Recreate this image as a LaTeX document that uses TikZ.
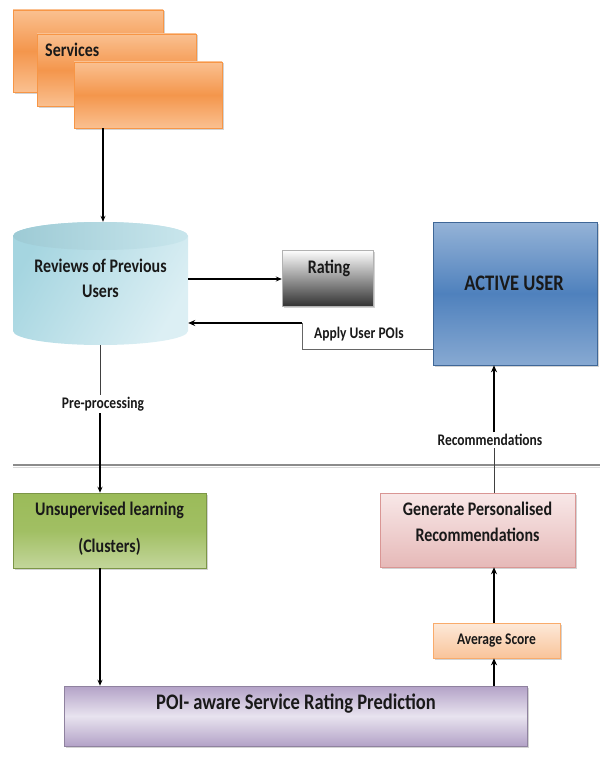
\documentclass[tikz,border=0pt]{standalone}
\usepackage{fontspec}
\setmainfont{Carlito}
\usetikzlibrary{arrows.meta,shadows}
\definecolor{orgB}{HTML}{F79646}
\definecolor{orgL}{HTML}{FAC090}
\definecolor{orgM}{HTML}{F4964C}
\definecolor{cylA}{HTML}{A5D5E0}
\definecolor{cylB}{HTML}{DCEFF4}
\definecolor{blueM}{HTML}{4F81BD}
\definecolor{blueL}{HTML}{95B3D7}
\definecolor{grnM}{HTML}{9BBB59}
\definecolor{grnL}{HTML}{C3D69B}
\definecolor{pnkM}{HTML}{E6B9B8}
\definecolor{pnkL}{HTML}{F8E8E8}
\definecolor{pnkB}{HTML}{D99694}
\definecolor{purM}{HTML}{B3A2C7}
\definecolor{purL}{HTML}{E8E3EF}
\definecolor{avgL}{HTML}{FDE9D9}
\definecolor{avgM}{HTML}{F9C49A}
\newcommand\tx[1]{\scalebox{1}[1.2]{#1}}
\newcommand\twol[3]{\tx{\begin{tabular}{@{}c@{}}#1\\[#3]#2\end{tabular}}}
\tikzset{
  x=1pt,y=1pt,
  shd/.style={drop shadow={shadow xshift=1.5pt,shadow yshift=-1.5pt,opacity=0.35}},
  orgbox/.style={rectangle,draw=orgB,line width=0.8pt,top color=orgL,bottom color=orgL,middle color=orgM,shd},
  txt/.style={font=\bfseries\fontsize{16}{19}\selectfont,text=black!90,align=center,inner sep=1pt},
  bigt/.style={font=\bfseries\fontsize{18.5}{22}\selectfont,text=black!90,inner sep=1pt},
  small/.style={font=\bfseries\fontsize{13.5}{16}\selectfont,text=black!90,inner sep=2pt},
  arr/.style={-{Stealth[length=6pt,width=5pt]},line width=1.1pt},
  arrthick/.style={-{Stealth[length=7pt,width=6pt]},line width=2.2pt},
  ln/.style={line width=1pt,black!75},
}
\begin{document}
\begin{tikzpicture}
\useasboundingbox (0,0) rectangle (600,-776);
% Services stack
\node[orgbox,minimum width=150,minimum height=82] (s1) at (88,-51) {};
\node[orgbox,minimum width=159,minimum height=72] (s2) at (116.5,-70) {};
\node[txt,anchor=west] (svc) at (44,-50) {\tx{Services}};
\node[orgbox,minimum width=148,minimum height=66] (s3) at (148,-95) {};
% Cylinder
\node[minimum width=175,minimum height=123,inner sep=0] (rev) at (100.5,-283.5) {};
\shade[left color=cylA,right color=cylB,shading angle=60]
  (13,-236) -- (13,-331) arc[start angle=180,end angle=360,x radius=87.5pt,y radius=14pt]
  -- (188,-236) arc[start angle=0,end angle=180,x radius=87.5pt,y radius=14pt] -- cycle;
\shade[left color=cylA!95!black,right color=cylA!60!white] (100.5,-236) ellipse[x radius=87.5pt,y radius=14pt];
\node[txt] (revt) at (100.5,-280.5) {\twol{Reviews of Previous}{Users}{2pt}};
% Rating
\node[rectangle,draw=black!30,shading angle=135,top color=white,bottom color=black!80,minimum width=91,minimum height=56,shd] (rating) at (327.5,-278) {};
\node[txt] (ratingt) at (329,-268) {\tx{Rating}};
% Active user
\node[rectangle,draw=blueM!80!black,line width=0.6pt,top color=blueL,bottom color=blueL!80!blueM,middle color=blueM,minimum width=164,minimum height=143,shd] (active) at (515,-293.5) {};
\node[bigt] (activet) at (514,-283) {\tx{ACTIVE USER}};
% Separator
\draw[line width=2pt,black!45] (13,-465) -- (600,-465);
\draw[line width=0.6pt,white!85!black] (13,-467) -- (600,-467);
% Green
\node[rectangle,draw=grnM!80!black,line width=0.5pt,top color=grnM,bottom color=grnL,middle color=grnM!85!grnL,minimum width=193,minimum height=75,shd] (green) at (109.5,-530.5) {};
\node[txt] (greent) at (109.5,-529.5) {\twol{Unsupervised learning}{(Clusters)}{12pt}};
% Pink
\node[rectangle,draw=pnkB,line width=0.5pt,shading angle=150,top color=pnkL,bottom color=pnkM,minimum width=195,minimum height=74,shd] (pink) at (477.5,-530) {};
\node[txt] (pinkt) at (477.5,-524) {\twol{Generate Personalised}{Recommendations}{3pt}};
% Average score
\node[rectangle,draw=orgB!80,line width=0.6pt,top color=avgL,bottom color=avgM,minimum width=127,minimum height=35,shd,small] (avg) at (496.5,-640.5) {\tx{Average Score}};
% POI
\node[rectangle,draw=purM!80!black,line width=0.5pt,top color=purM,bottom color=purM,middle color=purL,minimum width=463,minimum height=60,shd] (poi) at (295.5,-716) {};
\node[bigt] (poit) at (296,-704) {\tx{POI- aware Service Rating Prediction}};
% Labels on connectors
\node[small] (pre) at (103,-404) {\tx{Pre-processing}};
\node[small] (rec) at (490,-440) {\tx{Recommendations}};
\node[small] (apply) at (359,-334) {\tx{Apply User POIs}};
% Connectors
\draw[arr] (s3.south -| 103,0) -- (rev.north -| 103,0);
\draw[arr] (rev.east |- 0,-279) -- (rating.west |- 0,-279);
\draw[ln,black!60] (active.west |- 0,-349) -- (302,-349) -- (302,-323);
\draw[-{Stealth[length=7pt,width=6pt]},line width=1.6pt] (302,-323) -- (rev.east |- 0,-323);
\draw[ln] (rev.south -| 100,0) -- (pre.north -| 100,0);
\draw[arr] (pre.south -| 100,0) -- (green.north -| 100,0);
\draw[arr] (green.south -| 100,0) -- (poi.north -| 100,0);
\draw[arrthick] (poi.north -| 494,0) -- (avg.south -| 494,0);
\draw[arrthick] (avg.north -| 494,0) -- (pink.south -| 494,0);
\draw[ln] (pink.north -| 494,0) -- (rec.south -| 494,0);
\draw[arrthick] (rec.north -| 494,0) -- (active.south -| 494,0);
\end{tikzpicture}
\end{document}
